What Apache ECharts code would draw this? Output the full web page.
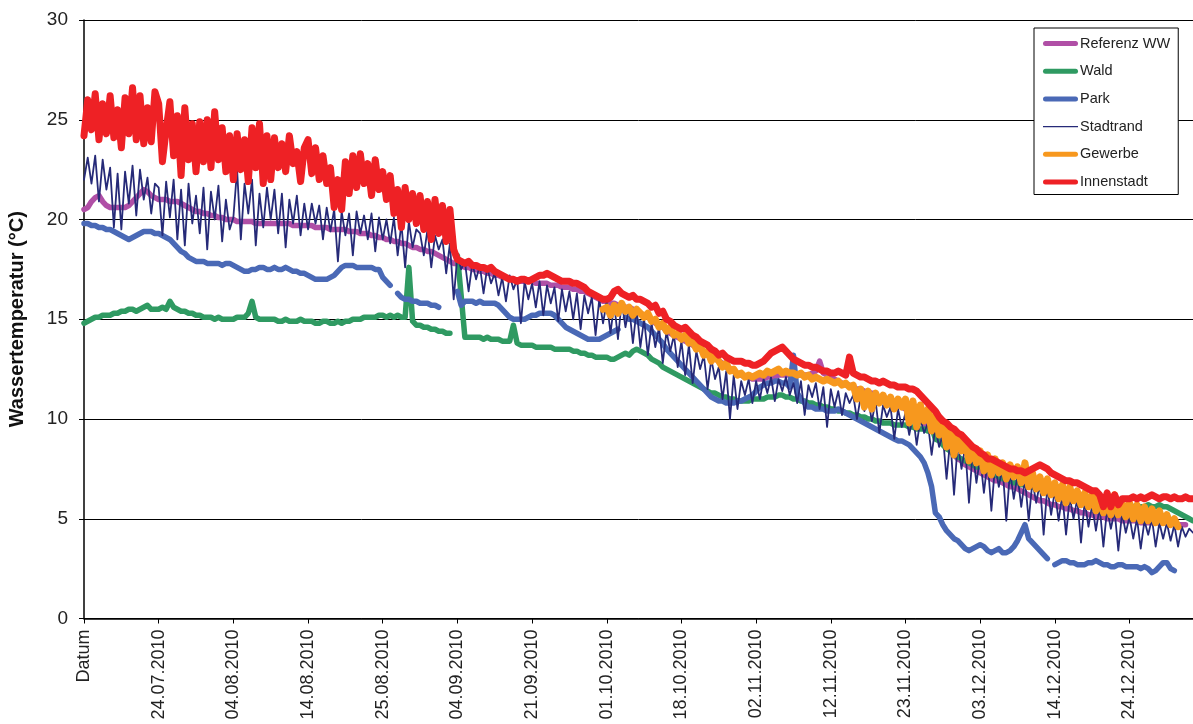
<!DOCTYPE html>
<html>
<head>
<meta charset="utf-8">
<script src="https://cdn.jsdelivr.net/npm/echarts@6/dist/echarts.min.js"></script>
<style>
html,body{margin:0;padding:0;background:#fff;}
#chart{width:1193px;height:724px;}
</style>
</head>
<body>
<div id="chart"></div>
<script>
// Tick labels shown every 20 rows on the category axis
const tickLabels = ['Datum','24.07.2010','04.08.2010','14.08.2010','25.08.2010','04.09.2010','21.09.2010','01.10.2010','18.10.2010','02.11.2010','12.11.2010','23.11.2010','03.12.2010','14.12.2010','24.12.2010'];
const rowCount = 298;
const labelStep = 20;

const innenstadt = [
24.2,26.0,24.5,26.3,24.0,25.8,24.3,26.2,24.1,25.5,
23.6,26.1,24.3,26.6,24.0,26.2,23.8,25.6,23.9,26.4,
25.8,22.9,24.5,25.9,23.2,25.2,22.2,25.6,23.0,24.8,
22.4,24.9,22.9,25.0,22.6,25.4,23.0,24.6,22.4,24.2,
22.0,24.3,22.5,24.0,21.9,24.6,22.6,24.8,21.8,24.2,
22.0,24.1,22.6,23.8,22.4,24.2,22.8,23.4,21.9,23.6,
24.0,22.3,23.6,22.0,23.2,21.8,22.6,20.6,22.0,20.5,
22.9,21.3,23.2,21.6,23.3,21.8,22.8,21.2,23.0,21.5,
22.4,21.0,22.2,20.3,21.5,19.6,21.6,20.0,21.3,19.8,
21.2,19.5,20.9,19.0,21.0,19.3,20.7,18.9,20.5,18.5,
18.0,17.9,17.8,17.9,17.7,17.7,17.6,17.6,17.5,17.6,
17.4,17.3,17.2,17.1,17.0,17.0,16.9,17.0,17.0,16.9,
17.0,17.1,17.2,17.2,17.3,17.2,17.1,17.0,16.9,16.9,
16.9,16.8,16.8,16.7,16.6,16.4,16.3,16.2,16.1,16.0,
16.0,16.1,16.4,16.5,16.3,16.2,16.1,16.2,16.0,16.0,
15.9,15.8,15.6,15.7,15.3,15.4,15.0,14.9,14.7,14.6,
14.5,14.6,14.4,14.2,14.1,13.9,13.8,13.7,13.5,13.4,
13.2,13.3,13.1,13.0,12.9,12.9,12.9,12.8,12.8,12.7,
12.7,12.8,12.9,13.1,13.3,13.4,13.5,13.6,13.4,13.2,
13.0,12.9,12.8,12.7,12.7,12.6,12.6,12.5,12.4,12.4,
12.3,12.3,12.4,12.3,12.2,13.1,12.3,12.2,12.1,12.1,
12.0,11.9,11.9,11.8,11.9,11.8,11.7,11.7,11.6,11.6,
11.6,11.5,11.5,11.4,11.2,11.0,10.8,10.6,10.4,10.1,
9.9,9.8,9.6,9.5,9.3,9.2,9.0,8.8,8.6,8.5,
8.3,8.2,8.0,8.0,7.9,7.8,7.7,7.6,7.5,7.5,
7.4,7.4,7.3,7.4,7.5,7.6,7.7,7.6,7.5,7.3,
7.2,7.1,7.0,6.9,6.9,6.8,6.8,6.7,6.6,6.5,
6.4,6.4,6.2,5.6,6.3,5.6,6.2,5.7,6.0,6.0,
6.0,6.1,6.0,6.1,6.0,6.1,6.2,6.1,6.0,6.1,
6.1,6.0,6.1,6.0,6.0,6.1,6.0,6.0
];

const stadtrand = [
22.0,23.1,21.8,23.2,20.9,23.0,21.5,22.6,19.6,22.3,
19.5,22.4,20.8,22.7,20.2,22.5,21.0,22.1,20.3,21.8,
21.6,19.2,21.9,20.1,22.0,19.0,21.5,18.7,21.8,19.8,
21.2,19.3,21.6,18.5,21.4,20.0,21.7,18.9,21.0,19.5,
20.1,22.5,19.0,21.8,20.3,22.0,18.7,21.3,19.6,21.6,
20.0,21.5,19.3,21.3,18.6,21.0,19.8,21.2,19.2,20.8,
19.5,20.8,19.8,20.7,19.0,20.6,19.4,20.5,17.9,20.4,
19.2,20.3,18.2,20.4,19.3,20.2,19.0,20.3,18.4,20.1,
19.0,20.0,18.8,20.1,18.2,19.8,17.6,19.9,18.6,19.5,
19.3,18.2,19.5,17.6,19.2,18.5,19.0,17.3,18.8,16.0,
18.2,17.5,17.9,16.4,17.8,17.0,17.7,16.3,17.6,16.8,
17.3,16.2,17.1,15.9,17.2,16.5,17.0,14.8,16.9,16.0,
16.8,15.6,16.9,15.2,16.7,15.8,16.6,14.9,16.5,15.4,
16.4,15.0,16.3,14.5,16.2,15.3,16.1,14.2,16.0,14.8,
15.9,14.3,15.8,14.0,15.9,14.6,15.6,13.8,15.5,13.6,
15.0,13.2,14.8,13.6,14.6,12.8,14.4,13.4,14.2,12.6,
13.9,12.2,13.7,11.8,13.4,12.5,13.2,11.5,13.0,12.0,
12.6,11.0,12.4,10.0,12.2,10.5,11.9,11.2,12.0,10.8,
11.9,11.0,12.0,11.3,12.1,10.9,12.0,11.4,12.1,11.2,
11.8,10.8,11.9,10.2,11.7,11.1,11.8,10.5,11.6,9.6,
11.5,10.6,11.4,10.2,11.3,10.8,11.2,10.0,11.1,10.4,
11.0,9.9,10.9,9.3,10.7,10.1,10.6,9.0,10.5,9.6,
10.3,9.2,10.2,8.7,10.0,9.3,9.8,8.2,9.6,8.6,
9.2,7.0,9.0,6.2,8.8,7.5,8.6,5.8,8.4,6.8,
8.1,6.3,7.9,5.4,7.7,6.6,7.6,4.9,7.4,6.0,
7.2,5.6,7.0,4.9,6.9,5.8,6.8,4.2,6.6,5.2,
6.4,4.9,6.2,4.2,6.1,5.0,6.0,3.8,5.9,4.6,
5.7,4.4,5.6,3.6,5.5,4.5,5.4,3.4,5.3,4.3,
5.1,4.0,5.0,3.5,4.9,4.2,5.0,3.6,4.8,4.0,
4.8,3.9,4.7,3.6,4.6,4.1,4.5,4.3
];

const referenzWW = [
20.5,20.6,20.9,21.1,21.2,20.9,20.7,20.6,20.6,20.6,
20.6,20.6,20.7,20.9,21.1,21.3,21.5,21.4,21.2,21.1,
21.0,21.0,21.0,20.9,20.9,20.9,20.8,20.7,20.6,20.5,
20.4,20.4,20.3,20.3,20.2,20.2,20.1,20.1,20.0,20.0,
20.0,19.9,19.9,19.9,19.9,19.9,19.8,19.8,19.8,19.8,
19.8,19.8,19.8,19.8,19.8,19.8,19.7,19.7,19.7,19.7,
19.7,19.7,19.6,19.6,19.6,19.6,19.5,19.5,19.5,19.5,
19.5,19.4,19.4,19.4,19.3,19.3,19.3,19.2,19.2,19.1,
19.1,19.0,19.0,18.9,18.9,18.8,18.8,18.7,18.6,18.6,
18.5,18.5,18.4,18.4,18.3,18.2,18.1,18.0,17.9,17.8,
17.8,17.7,17.6,17.6,17.5,17.5,17.4,17.4,17.3,17.3,
17.2,17.2,17.1,17.1,17.0,17.0,16.9,16.9,16.9,16.9,
16.9,16.8,16.8,16.8,16.8,16.7,16.7,16.7,16.6,16.6,
16.6,16.5,16.5,16.4,16.4,16.3,16.2,16.1,16.0,15.9,
15.9,15.8,15.8,15.7,15.7,15.6,15.6,15.5,15.4,15.3,
15.2,15.1,15.0,14.8,14.7,14.6,14.4,14.3,14.2,14.1,
14.0,13.9,13.8,13.7,13.6,13.5,13.4,13.2,13.1,13.0,
12.9,12.8,12.6,12.5,12.4,12.3,12.2,12.1,12.1,12.0,
12.0,12.0,12.0,12.1,12.1,12.1,12.2,12.2,12.2,12.2,
12.2,12.2,12.2,12.2,12.2,12.3,12.4,12.9,12.3,12.2,
12.1,12.0,11.9,11.8,11.7,11.7,11.6,11.5,11.5,11.4,
11.3,11.3,11.2,11.1,11.1,11.0,10.9,10.8,10.7,10.6,
10.5,10.4,10.3,10.1,10.0,9.8,9.6,9.4,9.2,9.0,
8.8,8.6,8.4,8.2,8.0,7.9,7.7,7.6,7.5,7.4,
7.3,7.2,7.1,7.0,6.9,6.9,6.8,6.7,6.6,6.6,
6.5,6.4,6.3,6.2,6.1,6.0,5.9,5.9,5.8,5.7,
5.7,5.6,5.6,5.5,5.5,5.4,5.4,5.3,5.3,5.2,
5.2,5.1,5.1,5.1,5.0,5.0,5.0,5.0,4.9,4.9,
4.9,4.9,4.9,4.8,4.8,4.8,4.8,4.8,4.8,4.8,
4.8,4.8,4.7,4.7,4.7,4.7
];

const wald = [
14.8,14.9,15.0,15.1,15.1,15.2,15.2,15.2,15.3,15.3,
15.4,15.4,15.5,15.5,15.4,15.5,15.6,15.7,15.5,15.5,
15.5,15.6,15.5,15.9,15.6,15.5,15.4,15.4,15.3,15.3,
15.2,15.2,15.1,15.1,15.1,15.0,15.1,15.0,15.0,15.0,
15.0,15.1,15.1,15.1,15.3,15.9,15.1,15.0,15.0,15.0,
15.0,15.0,14.9,14.9,15.0,14.9,14.9,14.9,15.0,14.9,
14.9,14.9,14.8,14.8,14.9,14.9,14.8,14.8,14.9,14.8,
14.9,14.9,15.0,15.0,15.0,15.1,15.1,15.1,15.1,15.2,
15.2,15.1,15.2,15.1,15.2,15.1,15.1,17.6,14.9,14.7,
14.7,14.6,14.6,14.5,14.5,14.4,14.4,14.3,14.3,null,
18.2,16.2,14.1,14.1,14.1,14.1,14.1,14.0,14.1,14.0,
14.0,14.0,13.9,13.9,13.9,14.7,13.8,13.7,13.7,13.7,
13.7,13.6,13.6,13.6,13.6,13.6,13.5,13.5,13.5,13.5,
13.5,13.4,13.4,13.3,13.3,13.2,13.2,13.1,13.1,13.1,
13.1,13.0,13.0,13.1,13.2,13.3,13.2,13.4,13.5,13.4,
13.3,13.2,13.0,12.9,12.8,12.6,12.5,12.4,12.3,12.2,
12.1,12.0,11.9,11.8,11.7,11.6,11.5,11.4,11.3,11.3,
11.2,11.1,11.1,11.0,11.0,10.9,10.9,10.9,10.9,11.0,
11.0,11.0,11.0,11.1,11.1,11.1,11.2,11.2,11.1,11.1,
11.0,11.0,10.9,10.9,10.8,10.8,10.7,10.7,10.6,10.6,
10.5,10.5,10.4,10.4,10.3,10.3,10.2,10.2,10.1,10.1,
10.0,10.0,9.9,9.9,9.8,9.8,9.8,9.7,9.7,9.7,
9.7,9.6,9.6,9.5,9.5,9.5,9.4,9.6,9.0,8.9,
8.7,8.5,8.4,8.2,8.1,8.0,7.9,7.8,7.7,7.6,
7.6,7.5,7.4,7.3,7.2,7.1,7.0,7.0,6.9,6.8,
6.8,6.7,6.7,6.6,6.6,6.5,6.5,6.4,6.4,6.3,
6.3,6.3,6.2,6.2,6.2,6.1,6.1,6.1,6.2,6.1,
6.0,6.0,5.9,5.9,5.8,5.8,5.7,5.7,5.7,5.6,
5.7,5.6,5.6,5.6,5.6,5.7,5.6,5.6,5.7,5.6,
5.6,5.5,5.4,5.3,5.2,5.1,5.0,4.9
];

const park = [
19.8,19.8,19.7,19.7,19.6,19.6,19.5,19.5,19.4,19.3,
19.2,19.1,19.0,19.1,19.2,19.3,19.4,19.4,19.4,19.3,
19.3,19.2,19.1,19.0,18.8,18.6,18.4,18.3,18.1,18.0,
17.9,17.9,17.9,17.8,17.8,17.8,17.8,17.7,17.8,17.8,
17.7,17.6,17.5,17.4,17.4,17.5,17.5,17.6,17.6,17.5,
17.5,17.6,17.5,17.5,17.6,17.5,17.4,17.4,17.3,17.3,
17.2,17.1,17.0,17.0,17.0,17.0,17.1,17.2,17.4,17.6,
17.7,17.7,17.7,17.6,17.6,17.6,17.6,17.6,17.5,17.5,
17.1,16.9,16.7,null,16.3,16.1,16.0,16.0,15.9,15.9,
15.8,15.8,15.8,15.7,15.7,15.6,null,null,null,null,
16.4,15.7,15.9,15.9,15.9,15.8,15.9,15.8,15.8,15.8,
15.8,15.7,15.5,15.3,15.1,15.0,15.0,15.0,15.0,15.1,
15.2,15.2,15.3,15.3,15.3,15.3,15.2,15.0,14.8,14.6,
14.5,14.4,14.3,14.2,14.1,14.0,14.0,14.0,14.0,14.1,
14.2,14.3,14.4,14.5,null,15.1,15.0,15.0,14.9,14.8,
14.7,14.6,14.4,14.2,14.0,13.8,13.5,13.3,13.1,12.9,
12.7,12.5,12.3,12.1,11.9,11.7,11.5,11.3,11.1,11.0,
10.9,10.9,10.8,10.8,10.8,10.9,10.9,11.0,11.1,11.2,
11.4,11.6,11.7,11.8,11.8,11.9,11.9,11.8,11.8,11.6,
13.2,11.3,11.0,10.8,10.6,10.6,10.5,10.5,10.5,10.4,
10.4,10.4,10.5,10.4,10.3,10.2,10.1,10.0,9.9,9.8,
9.7,9.6,9.5,9.4,9.3,9.2,9.1,9.0,8.9,8.9,
8.8,8.7,8.5,8.3,8.1,7.8,7.3,6.6,5.3,5.1,
4.7,4.4,4.2,4.0,3.9,3.7,3.5,3.4,3.5,3.6,
3.7,3.6,3.4,3.3,3.4,3.5,3.3,3.3,3.4,3.6,
3.9,4.3,4.7,4.0,3.8,3.6,3.4,3.2,3.0,null,
2.7,2.8,2.9,2.9,2.8,2.8,2.7,2.7,2.7,2.8,
2.8,2.9,2.8,2.7,2.7,2.6,2.6,2.7,2.7,2.6,
2.6,2.6,2.6,2.5,2.6,2.5,2.3,2.4,2.6,2.8,
2.8,2.5,2.4
];

// Gewerbe starts at row 139
const gewerbeStart = 139;
const gewerbe = [
15.5,
15.6,15.2,15.7,15.3,15.8,15.4,15.6,15.2,15.5,15.3,
15.1,15.3,14.9,15.0,14.6,14.8,14.4,14.6,14.2,14.3,
14.0,14.2,13.8,13.9,13.5,13.7,13.2,13.4,12.9,13.2,
12.9,12.6,12.8,12.4,12.5,12.2,12.3,12.1,12.2,12.1,
12.2,12.3,12.2,12.4,12.3,12.4,12.5,12.3,12.4,12.3,
12.3,12.2,12.3,12.1,12.2,12.0,12.1,12.0,11.9,12.0,
11.9,11.8,11.9,11.7,11.8,11.6,11.7,11.0,11.5,10.6,
11.4,10.5,11.3,10.8,11.2,10.7,11.1,10.5,11.0,10.6,
11.0,9.8,10.9,9.6,10.7,9.9,10.5,9.4,10.2,9.2,
9.8,8.6,9.5,8.2,9.2,8.4,8.9,7.9,8.6,7.8,
8.4,7.4,8.2,7.2,8.0,7.3,7.8,7.0,7.7,7.1,
7.6,6.8,7.8,6.6,7.3,6.5,7.1,6.3,7.0,6.2,
6.8,6.0,6.7,5.8,6.6,5.9,6.4,5.7,6.3,5.6,
6.2,5.4,6.1,5.3,6.0,5.2,6.2,5.2,5.8,5.1,
5.8,5.0,5.7,4.9,5.6,4.9,5.5,4.8,5.4,4.8,
5.2,4.7,5.0,4.6
];

const categories = Array.from({length: rowCount}, (_, i) =>
  (i % labelStep === 0 && tickLabels[i / labelStep] !== undefined) ? tickLabels[i / labelStep] : '');
const gewerbeData = Array(gewerbeStart).fill(null).concat(gewerbe);

const font = '"Liberation Sans", Arial, Helvetica, sans-serif';
const chart = echarts.init(document.getElementById('chart'), null, {renderer: 'canvas'});

const thickIcon = 'path://M2.5,0 L32.5,0 A2.5,2.5 0 0 1 32.5,5 L2.5,5 A2.5,2.5 0 0 1 2.5,0 Z';
const thinIcon = 'path://M0,0 L35,0 L35,1.4 L0,1.4 Z';

function mk(name, data, color, width) {
  return {
    name: name, type: 'line', data: data, symbol: 'none', showSymbol: false,
    connectNulls: false, animation: false,
    lineStyle: {color: color, width: width, join: 'round', cap: 'round'},
    itemStyle: {color: color},
    emphasis: {disabled: true}
  };
}

chart.setOption({
  animation: false,
  backgroundColor: '#fff',
  grid: {left: 84, right: 0, top: 20, bottom: 105.5, containLabel: false, outerBoundsMode: 'none'},
  legend: {
    orient: 'vertical', left: 1034, top: 28,
    backgroundColor: '#fff', borderColor: '#000', borderWidth: 1,
    padding: [8, 8, 5, 9], itemGap: 12.7, itemWidth: 35, itemHeight: 14,
    symbolKeepAspect: true,
    textStyle: {fontFamily: font, fontSize: 14.5, color: '#222', padding: [0, 0, 0, -3]},
    data: [
      {name: 'Referenz WW', icon: thickIcon},
      {name: 'Wald', icon: thickIcon},
      {name: 'Park', icon: thickIcon},
      {name: 'Stadtrand', icon: thinIcon},
      {name: 'Gewerbe', icon: thickIcon},
      {name: 'Innenstadt', icon: thickIcon}
    ]
  },
  xAxis: {
    type: 'category', data: categories, boundaryGap: false,
    axisLine: {lineStyle: {color: '#000', width: 1.5}},
    axisTick: {interval: labelStep - 1, length: 5, lineStyle: {color: '#000'}},
    axisLabel: {interval: labelStep - 1, rotate: 90, margin: 11, fontSize: 18, color: '#222', fontFamily: font},
    splitLine: {show: false}
  },
  yAxis: {
    type: 'value', min: 0, max: 30, interval: 5,
    name: 'Wassertemperatur (°C)', nameLocation: 'middle', nameGap: 57,
    nameTextStyle: {fontFamily: font, fontSize: 20, fontWeight: 'bold', color: '#111'},
    axisLine: {show: true, lineStyle: {color: '#000', width: 1.5}},
    axisTick: {show: true, length: 5, lineStyle: {color: '#000'}},
    axisLabel: {fontSize: 19, color: '#222', fontFamily: font, margin: 16},
    splitLine: {show: true, lineStyle: {color: '#000', width: 1}}
  },
  series: [
    mk('Referenz WW', referenzWW, '#b04fa6', 5.5),
    mk('Wald', wald, '#2f9a62', 5.5),
    mk('Park', park, '#4a69b6', 5.5),
    mk('Stadtrand', stadtrand, '#262a78', 1.8),
    mk('Gewerbe', gewerbeData, '#f7981e', 7),
    mk('Innenstadt', innenstadt, '#ee2125', 7)
  ]
});
</script>
</body>
</html>
